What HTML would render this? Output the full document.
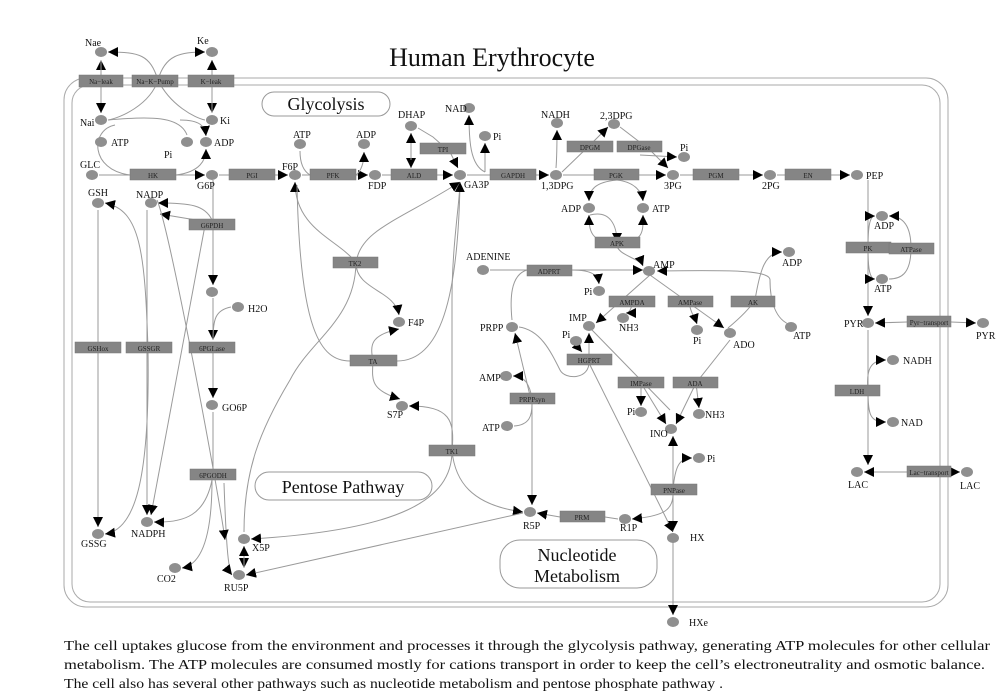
<!DOCTYPE html>
<html><head><meta charset="utf-8"><style>
body{margin:0;background:#fff}
svg{display:block}
text{font-family:"Liberation Serif",serif;fill:#111}
.e{fill:#858585;stroke:#777;stroke-width:.5}
.et{font-size:7px;text-anchor:middle;fill:#222}
.n{fill:#8f8f8f}
.l{font-size:10px}
.c{fill:none;stroke:#9a9a9a;stroke-width:1}
.a{fill:none;stroke:#9a9a9a;stroke-width:1;marker-end:url(#ar)}
</style></head><body>
<svg width="1000" height="694" viewBox="0 0 1000 694" xmlns="http://www.w3.org/2000/svg">
<defs><marker id="ar" viewBox="0 0 10 10" refX="10" refY="5" markerWidth="10" markerHeight="10" markerUnits="userSpaceOnUse" orient="auto"><path d="M0,0L10,5L0,10z" fill="#000"/></marker></defs>
<text x="492" y="66" font-size="26" text-anchor="middle">Human Erythrocyte</text>
<rect x="64" y="78" width="884" height="529" rx="22" fill="none" stroke="#aaa"/>
<rect x="72" y="85" width="868" height="517" rx="18" fill="none" stroke="#aaa"/>
<rect x="262" y="92" width="128" height="24" rx="12" fill="#fff" stroke="#999"/>
<text x="326" y="110" font-size="18" text-anchor="middle">Glycolysis</text>
<rect x="255" y="472" width="177" height="28" rx="14" fill="#fff" stroke="#999"/>
<text x="343" y="493" font-size="18" text-anchor="middle">Pentose Pathway</text>
<rect x="500" y="540" width="157" height="48" rx="20" fill="#fff" stroke="#999"/>
<text x="577" y="561" font-size="18" text-anchor="middle">Nucleotide</text>
<text x="577" y="582" font-size="18" text-anchor="middle">Metabolism</text>

<g>
<path class="a" d="M101,113 L101,60"/><path class="a" d="M101,60 L101,113"/>
<path class="a" d="M212,60 L212,113"/><path class="a" d="M212,113 L212,60"/>
<path class="a" d="M158,80 C150,55 140,52 108,52"/>
<path class="a" d="M158,80 C165,55 180,52 205,52"/>
<path class="c" d="M158,80 C150,105 120,118 108,120"/>
<path class="c" d="M158,80 C170,105 195,118 205,120"/>
<path class="c" d="M108,120 C150,116 180,116 187,135"/>
<path class="a" d="M180,120 C200,120 205,126 206,136"/>
<path class="c" d="M99,175 L130,175"/><path class="c" d="M176,175 L200,175"/>
<path class="c" d="M130,175 C90,170 90,130 115,125"/>
<path class="a" d="M176,175 C200,172 206,160 206,149"/>
<path class="a" d="M176,175 L205,175"/>
<path class="c" d="M219,175 L229,175"/><path class="a" d="M275,175 L288,175"/>
<path class="c" d="M302,175 L310,175"/><path class="a" d="M356,175 L368,175"/>
<path class="c" d="M300,151 C300,165 305,172 310,175"/>
<path class="a" d="M356,175 C362,170 364,162 364,152"/>
<path class="c" d="M382,175 L391,175"/><path class="a" d="M437,175 L453,175"/>
<path class="a" d="M411,145 L411,168"/><path class="a" d="M411,160 L411,133"/>
<path class="a" d="M418,128 L433,137 L450,152 L458,168"/>
<path class="c" d="M467,175 L490,175"/><path class="a" d="M536,175 L549,175"/>
<path class="a" d="M485,172 C470,165 469,140 469,115"/>
<path class="a" d="M485,172 L485,143"/>
<path class="c" d="M563,175 L594,175"/><path class="a" d="M639,175 L666,175"/>
<path class="a" d="M556,168 C557,155 557,140 557,130"/>
<path class="a" d="M562,172 L590,145 L608,127"/>
<path class="a" d="M620,127 L650,150 L668,168"/>
<path class="a" d="M640,155 L677,157"/>
<path class="c" d="M680,175 L693,175"/><path class="a" d="M739,175 L763,175"/>
<path class="c" d="M777,175 L785,175"/><path class="a" d="M831,175 L850,175"/>
<path class="a" d="M617,180 C595,182 589,190 589,201"/>
<path class="a" d="M617,180 C635,182 642,192 643,201"/>
<path class="a" d="M617,243 C590,243 589,230 589,215"/>
<path class="a" d="M617,243 C645,243 643,230 643,215"/>
<path class="a" d="M617,243 C615,255 640,258 643,266"/>
<path class="a" d="M590,215 C610,210 617,225 617,243"/>
<path class="c" d="M490,270 L527,270"/><path class="a" d="M572,270 L643,270"/>
<path class="a" d="M572,270 C592,270 598,275 599,284"/>
<path class="c" d="M527,270 C510,275 510,300 512,320"/>
<path class="a" d="M791,325 C775,320 770,300 770,280 C770,270 730,270 657,271"/>
<path class="a" d="M755,300 C760,270 765,252 782,252"/>
<path class="c" d="M728,328 C740,318 750,308 755,300"/>
<path class="a" d="M650,275 L596,323"/>
<path class="a" d="M650,275 L724,328"/>
<path class="a" d="M632,305 C630,312 628,313 626,313"/>
<path class="a" d="M690,307 C692,315 695,318 697,324"/>
<path class="a" d="M589,361 L589,333"/>
<path class="a" d="M576,345 L582,352"/>
<path class="c" d="M589,361 C590,380 565,380 560,370 C550,350 540,330 519,327"/>
<path class="c" d="M592,330 L670,410"/>
<path class="a" d="M590,365 L673,532"/>
<path class="a" d="M641,383 L641,406"/>
<path class="a" d="M696,383 L699,408"/>
<path class="a" d="M641,383 L666,424"/>
<path class="c" d="M730,340 L696,383"/>
<path class="a" d="M696,383 L676,424"/>
<path class="a" d="M673,490 L673,436"/>
<path class="a" d="M673,490 L673,531"/>
<path class="a" d="M673,538 L673,615"/>
<path class="a" d="M673,490 C675,465 680,458 692,458"/>
<path class="a" d="M673,490 C674,510 665,516 632,519"/>
<path class="c" d="M605,517 L618,519"/><path class="a" d="M560,517 L537,513"/>
<path class="a" d="M532,404 L532,505"/><path class="a" d="M532,404 L515,333"/>
<path class="a" d="M532,399 C530,385 525,376 513,376"/>
<path class="c" d="M514,426 C530,425 532,415 532,404"/>
<path class="a" d="M452,451 C455,480 470,505 523,512"/>
<path class="a" d="M452,451 C455,420 450,406 409,406"/>
<path class="c" d="M452,451 L452,300 C452,245 460,200 460,182"/>
<path class="a" d="M452,451 C452,500 400,530 251,539"/>
<path class="a" d="M523,513 L246,575"/>
<path class="a" d="M356,263 C340,240 295,230 295,182"/>
<path class="a" d="M356,263 C360,230 400,220 460,182"/>
<path class="a" d="M356,263 C356,290 395,290 399,315"/>
<path class="c" d="M356,263 C355,320 310,340 290,380 C260,430 244,470 244,532"/>
<path class="c" d="M350,361 C320,361 300,330 297,185"/>
<path class="a" d="M397,361 C440,361 458,300 460,182"/>
<path class="a" d="M373,361 C370,345 370,335 399,329"/>
<path class="a" d="M373,361 C372,380 370,390 400,399"/>
<path class="a" d="M244,546 L244,568"/><path class="a" d="M244,568 L244,546"/>
<path class="a" d="M224,483 C226,540 228,570 232,575"/>
<path class="a" d="M213,180 L213,285"/>
<path class="a" d="M213,298 L213,340"/>
<path class="c" d="M231,307 C215,310 213,320 213,340"/>
<path class="a" d="M213,353 L213,398"/>
<path class="c" d="M213,412 L213,470"/>
<path class="a" d="M212,480 C205,515 185,523 154,522"/>
<path class="a" d="M212,480 C212,540 200,565 182,568"/>
<path class="a" d="M212,220 C205,205 190,203 158,203"/>
<path class="a" d="M232,226 L160,214"/>
<path class="a" d="M98,210 L98,527"/>
<path class="a" d="M147,210 L147,515"/>
<path class="a" d="M206,220 L151,515"/>
<path class="a" d="M148,350 C145,250 140,210 105,203"/>
<path class="a" d="M148,350 C150,480 135,530 105,534"/>
<path class="a" d="M157,200 C170,230 220,500 225,540"/>
<path class="a" d="M868,180 L868,316"/>
<path class="a" d="M868,248 C868,225 870,216 875,216"/>
<path class="a" d="M868,248 C868,270 870,279 875,279"/>
<path class="a" d="M911,248 C911,222 900,216 889,216"/>
<path class="c" d="M911,248 C911,275 900,279 889,279"/>
<path class="a" d="M907,322 L875,323"/><path class="a" d="M951,322 L976,323"/>
<path class="a" d="M868,330 L868,465"/>
<path class="a" d="M868,391 C866,370 870,360 886,360"/>
<path class="a" d="M868,391 C868,415 870,422 886,422"/>
<path class="a" d="M907,472 L864,472"/><path class="a" d="M951,472 L960,472"/>
</g>

<g>
<rect class="e" x="79" y="75" width="44" height="12"/><text class="et" x="101" y="84" font-size="8">Na−leak</text>
<rect class="e" x="132" y="75" width="46" height="12"/><text class="et" x="155" y="84" font-size="6">Na−K−Pump</text>
<rect class="e" x="188" y="75" width="46" height="12"/><text class="et" x="211" y="84">K−leak</text>
<rect class="e" x="130" y="169" width="46" height="11"/><text class="et" x="153" y="178">HK</text>
<rect class="e" x="229" y="169" width="46" height="11"/><text class="et" x="252" y="178">PGI</text>
<rect class="e" x="310" y="169" width="46" height="11"/><text class="et" x="333" y="178">PFK</text>
<rect class="e" x="391" y="169" width="46" height="11"/><text class="et" x="414" y="178">ALD</text>
<rect class="e" x="420" y="143" width="46" height="11"/><text class="et" x="443" y="152">TPI</text>
<rect class="e" x="490" y="169" width="46" height="11"/><text class="et" x="513" y="178">GAPDH</text>
<rect class="e" x="567" y="141" width="46" height="11"/><text class="et" x="590" y="150">DPGM</text>
<rect class="e" x="617" y="141" width="45" height="11"/><text class="et" x="639" y="150">DPGase</text>
<rect class="e" x="594" y="169" width="45" height="11"/><text class="et" x="616" y="178">PGK</text>
<rect class="e" x="693" y="169" width="46" height="11"/><text class="et" x="716" y="178">PGM</text>
<rect class="e" x="785" y="169" width="46" height="11"/><text class="et" x="808" y="178">EN</text>
<rect class="e" x="595" y="237" width="45" height="11"/><text class="et" x="617" y="246">APK</text>
<rect class="e" x="527" y="265" width="45" height="11"/><text class="et" x="549" y="274">ADPRT</text>
<rect class="e" x="609" y="296" width="46" height="11"/><text class="et" x="632" y="305">AMPDA</text>
<rect class="e" x="668" y="296" width="45" height="11"/><text class="et" x="690" y="305">AMPase</text>
<rect class="e" x="731" y="296" width="44" height="11"/><text class="et" x="753" y="305">AK</text>
<rect class="e" x="567" y="354" width="45" height="11"/><text class="et" x="589" y="363">HGPRT</text>
<rect class="e" x="510" y="393" width="45" height="11"/><text class="et" x="532" y="402">PRPPsyn</text>
<rect class="e" x="618" y="377" width="46" height="11"/><text class="et" x="641" y="386">IMPase</text>
<rect class="e" x="673" y="377" width="45" height="11"/><text class="et" x="695" y="386">ADA</text>
<rect class="e" x="651" y="484" width="46" height="11"/><text class="et" x="674" y="493">PNPase</text>
<rect class="e" x="560" y="511" width="45" height="11"/><text class="et" x="582" y="520">PRM</text>
<rect class="e" x="846" y="242" width="45" height="11"/><text class="et" x="868" y="251">PK</text>
<rect class="e" x="889" y="243" width="45" height="11"/><text class="et" x="911" y="252">ATPase</text>
<rect class="e" x="907" y="316" width="44" height="11"/><text class="et" x="929" y="325" font-size="6">Pyr−transport</text>
<rect class="e" x="835" y="385" width="45" height="11"/><text class="et" x="857" y="394">LDH</text>
<rect class="e" x="907" y="466" width="44" height="11"/><text class="et" x="929" y="475" font-size="6">Lac−transport</text>
<rect class="e" x="189" y="219" width="46" height="11"/><text class="et" x="212" y="228">G6PDH</text>
<rect class="e" x="189" y="342" width="46" height="11"/><text class="et" x="212" y="351">6PGLase</text>
<rect class="e" x="190" y="469" width="46" height="11"/><text class="et" x="213" y="478">6PGODH</text>
<rect class="e" x="75" y="342" width="46" height="11"/><text class="et" x="98" y="351">GSHox</text>
<rect class="e" x="126" y="342" width="46" height="11"/><text class="et" x="149" y="351">GSSGR</text>
<rect class="e" x="333" y="257" width="45" height="11"/><text class="et" x="355" y="266">TK2</text>
<rect class="e" x="350" y="355" width="47" height="11"/><text class="et" x="373" y="364">TA</text>
<rect class="e" x="429" y="445" width="46" height="11"/><text class="et" x="452" y="454">TK1</text>
</g>

<g>
<ellipse class="n" cx="101" cy="52" rx="6" ry="5"/><text class="l" x="85" y="46" font-size="9">Nae</text>
<ellipse class="n" cx="212" cy="52" rx="6" ry="5"/><text class="l" x="197" y="44" font-size="9">Ke</text>
<ellipse class="n" cx="101" cy="120" rx="6" ry="5"/><text class="l" x="80" y="126">Nai</text>
<ellipse class="n" cx="212" cy="120" rx="6" ry="5"/><text class="l" x="220" y="124">Ki</text>
<ellipse class="n" cx="101" cy="142" rx="6" ry="5"/><text class="l" x="111" y="146">ATP</text>
<ellipse class="n" cx="187" cy="142" rx="6" ry="5"/><text class="l" x="164" y="158">Pi</text>
<ellipse class="n" cx="206" cy="142" rx="6" ry="5"/><text class="l" x="214" y="146">ADP</text>
<ellipse class="n" cx="92" cy="175" rx="6" ry="5"/><text class="l" x="80" y="168">GLC</text>
<ellipse class="n" cx="212" cy="175" rx="6" ry="5"/><text class="l" x="197" y="189">G6P</text>
<ellipse class="n" cx="295" cy="175" rx="6" ry="5"/><text class="l" x="282" y="170">F6P</text>
<ellipse class="n" cx="300" cy="144" rx="6" ry="5"/><text class="l" x="293" y="138">ATP</text>
<ellipse class="n" cx="375" cy="175" rx="6" ry="5"/><text class="l" x="368" y="189">FDP</text>
<ellipse class="n" cx="364" cy="144" rx="6" ry="5"/><text class="l" x="356" y="138">ADP</text>
<ellipse class="n" cx="460" cy="175" rx="6" ry="5"/><text class="l" x="464" y="188">GA3P</text>
<ellipse class="n" cx="411" cy="126" rx="6" ry="5"/><text class="l" x="398" y="118">DHAP</text>
<ellipse class="n" cx="469" cy="108" rx="6" ry="5"/><text class="l" x="445" y="112">NAD</text>
<ellipse class="n" cx="485" cy="136" rx="6" ry="5"/><text class="l" x="493" y="140">Pi</text>
<ellipse class="n" cx="556" cy="175" rx="6" ry="5"/><text class="l" x="541" y="189">1,3DPG</text>
<ellipse class="n" cx="557" cy="123" rx="6" ry="5"/><text class="l" x="541" y="118">NADH</text>
<ellipse class="n" cx="614" cy="124" rx="6" ry="5"/><text class="l" x="600" y="119">2,3DPG</text>
<ellipse class="n" cx="684" cy="157" rx="6" ry="5"/><text class="l" x="680" y="151">Pi</text>
<ellipse class="n" cx="673" cy="175" rx="6" ry="5"/><text class="l" x="664" y="189">3PG</text>
<ellipse class="n" cx="770" cy="175" rx="6" ry="5"/><text class="l" x="762" y="189">2PG</text>
<ellipse class="n" cx="857" cy="175" rx="6" ry="5"/><text class="l" x="866" y="179">PEP</text>
<ellipse class="n" cx="589" cy="208" rx="6" ry="5"/><text class="l" x="561" y="212">ADP</text>
<ellipse class="n" cx="643" cy="208" rx="6" ry="5"/><text class="l" x="652" y="212">ATP</text>
<ellipse class="n" cx="649" cy="271" rx="6" ry="5"/><text class="l" x="653" y="268">AMP</text>
<ellipse class="n" cx="483" cy="270" rx="6" ry="5"/><text class="l" x="466" y="260">ADENINE</text>
<ellipse class="n" cx="599" cy="291" rx="6" ry="5"/><text class="l" x="584" y="295">Pi</text>
<ellipse class="n" cx="789" cy="252" rx="6" ry="5"/><text class="l" x="782" y="266">ADP</text>
<ellipse class="n" cx="791" cy="327" rx="6" ry="5"/><text class="l" x="793" y="339">ATP</text>
<ellipse class="n" cx="589" cy="326" rx="6" ry="5"/><text class="l" x="569" y="321">IMP</text>
<ellipse class="n" cx="623" cy="318" rx="6" ry="5"/><text class="l" x="619" y="331">NH3</text>
<ellipse class="n" cx="697" cy="330" rx="6" ry="5"/><text class="l" x="693" y="344">Pi</text>
<ellipse class="n" cx="730" cy="333" rx="6" ry="5"/><text class="l" x="733" y="348">ADO</text>
<ellipse class="n" cx="512" cy="327" rx="6" ry="5"/><text class="l" x="480" y="331">PRPP</text>
<ellipse class="n" cx="576" cy="341" rx="6" ry="5"/><text class="l" x="562" y="338">Pi</text>
<ellipse class="n" cx="506" cy="376" rx="6" ry="5"/><text class="l" x="479" y="381">AMP</text>
<ellipse class="n" cx="507" cy="426" rx="6" ry="5"/><text class="l" x="482" y="431">ATP</text>
<ellipse class="n" cx="641" cy="412" rx="6" ry="5"/><text class="l" x="627" y="415">Pi</text>
<ellipse class="n" cx="699" cy="414" rx="6" ry="5"/><text class="l" x="705" y="418">NH3</text>
<ellipse class="n" cx="671" cy="429" rx="6" ry="5"/><text class="l" x="650" y="437">INO</text>
<ellipse class="n" cx="699" cy="458" rx="6" ry="5"/><text class="l" x="707" y="462">Pi</text>
<ellipse class="n" cx="530" cy="512" rx="6" ry="5"/><text class="l" x="523" y="529">R5P</text>
<ellipse class="n" cx="625" cy="519" rx="6" ry="5"/><text class="l" x="620" y="531">R1P</text>
<ellipse class="n" cx="673" cy="538" rx="6" ry="5"/><text class="l" x="690" y="541">HX</text>
<ellipse class="n" cx="673" cy="622" rx="6" ry="5"/><text class="l" x="689" y="626" font-size="9">HXe</text>
<ellipse class="n" cx="882" cy="216" rx="6" ry="5"/><text class="l" x="874" y="229">ADP</text>
<ellipse class="n" cx="882" cy="279" rx="6" ry="5"/><text class="l" x="874" y="292">ATP</text>
<ellipse class="n" cx="868" cy="323" rx="6" ry="5"/><text class="l" x="844" y="327">PYR</text>
<ellipse class="n" cx="983" cy="323" rx="6" ry="5"/><text class="l" x="976" y="339">PYR</text>
<ellipse class="n" cx="893" cy="360" rx="6" ry="5"/><text class="l" x="903" y="364">NADH</text>
<ellipse class="n" cx="893" cy="422" rx="6" ry="5"/><text class="l" x="901" y="426">NAD</text>
<ellipse class="n" cx="857" cy="472" rx="6" ry="5"/><text class="l" x="848" y="488">LAC</text>
<ellipse class="n" cx="967" cy="472" rx="6" ry="5"/><text class="l" x="960" y="489">LAC</text>
<ellipse class="n" cx="98" cy="203" rx="6" ry="5"/><text class="l" x="88" y="196">GSH</text>
<ellipse class="n" cx="151" cy="203" rx="6" ry="5"/><text class="l" x="136" y="198">NADP</text>
<ellipse class="n" cx="212" cy="292" rx="6" ry="5"/>
<ellipse class="n" cx="238" cy="307" rx="6" ry="5"/><text class="l" x="248" y="312">H2O</text>
<ellipse class="n" cx="212" cy="405" rx="6" ry="5"/><text class="l" x="222" y="411">GO6P</text>
<ellipse class="n" cx="98" cy="534" rx="6" ry="5"/><text class="l" x="81" y="547">GSSG</text>
<ellipse class="n" cx="147" cy="522" rx="6" ry="5"/><text class="l" x="131" y="537">NADPH</text>
<ellipse class="n" cx="175" cy="568" rx="6" ry="5"/><text class="l" x="157" y="582">CO2</text>
<ellipse class="n" cx="239" cy="575" rx="6" ry="5"/><text class="l" x="224" y="591">RU5P</text>
<ellipse class="n" cx="244" cy="539" rx="6" ry="5"/><text class="l" x="252" y="551">X5P</text>
<ellipse class="n" cx="399" cy="322" rx="6" ry="5"/><text class="l" x="408" y="326">F4P</text>
<ellipse class="n" cx="402" cy="406" rx="6" ry="5"/><text class="l" x="387" y="418">S7P</text>
</g>

<g font-size="13.5">
<text x="64" y="650" textLength="926" lengthAdjust="spacingAndGlyphs">The cell uptakes glucose from the environment and  processes it through the glycolysis pathway, generating ATP molecules for other cellular</text>
<text x="64" y="669" textLength="921" lengthAdjust="spacingAndGlyphs">metabolism.   The ATP molecules are consumed mostly for cations transport in order to keep the cell’s electroneutrality and osmotic balance.</text>
<text x="64" y="688" textLength="659" lengthAdjust="spacingAndGlyphs">The cell also has several other pathways such as nucleotide metabolism and pentose phosphate pathway .</text>
</g>
</svg>
</body></html>
